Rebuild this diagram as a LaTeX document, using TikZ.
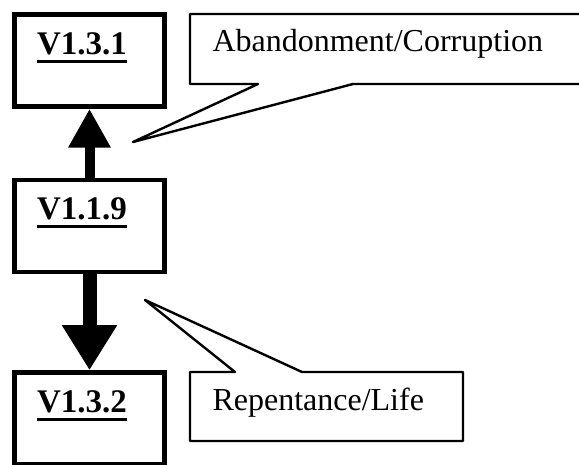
\documentclass[tikz,border=0pt]{standalone}
\usepackage{fontspec}
\usepackage{tikz}
\usetikzlibrary{arrows.meta}
\setmainfont{Liberation Serif}

% heavy underline for the verse titles
\newlength\titlewd
\newcommand\vtitle[1]{\settowidth\titlewd{#1}#1\llap{\rule[-8.5pt]{\titlewd}{3pt}}}

\begin{document}
\begin{tikzpicture}[x=1pt, y=-1pt,
  verse/.style={draw, line width=4.5pt, inner xsep=22.5pt, inner ysep=0pt, text width=105pt, align=left,
    text height=40pt, text depth=52pt, font=\bfseries\fontsize{33}{38}\selectfont},
  note/.style={inner xsep=22.5pt, inner ysep=0pt, outer sep=0pt, align=left,
    font=\fontsize{32}{36}\selectfont},
  noteline/.style={draw, line width=2.4pt, line join=round}]
\useasboundingbox (0,0) rectangle (579,465);

% verse boxes
\node[verse] (v131) at (89.5,60.5) {\vtitle{V1.3.1}};
\node[verse] (v119) at (89.5,226) {\vtitle{V1.1.9}};
\node[verse] (v132) at (89.5,418.5) {\vtitle{V1.3.2}};

\draw[line width=10pt, -{Triangle[width=40pt,length=39pt]}] (v119) -- (v131);
\draw[line width=14pt, -{Triangle[width=52pt,length=45pt]}] (v119) -- (v132);

% callouts
\node[note, text width=365pt, text height=38pt, text depth=32pt, anchor=north west] (abandon) at (190,14) {Abandonment/Corruption};
\coordinate (abandontip) at (133,142);
\draw[noteline] (abandon.south west) -- (abandon.north west) -- (abandon.north east) -- (abandon.south east)
  -- ([xshift=163pt]abandon.south west) -- (abandontip) -- ([xshift=68pt]abandon.south west) -- cycle;

\node[note, text width=228pt, text height=38pt, text depth=31pt, anchor=north west] (repent) at (190,372) {Repentance/Life};
\coordinate (repenttip) at (145,300);
\draw[noteline] (repent.north west) -- ([xshift=45pt]repent.north west) -- (repenttip)
  -- ([xshift=112pt]repent.north west) -- (repent.north east) -- (repent.south east) -- (repent.south west) -- cycle;
\end{tikzpicture}
\end{document}
